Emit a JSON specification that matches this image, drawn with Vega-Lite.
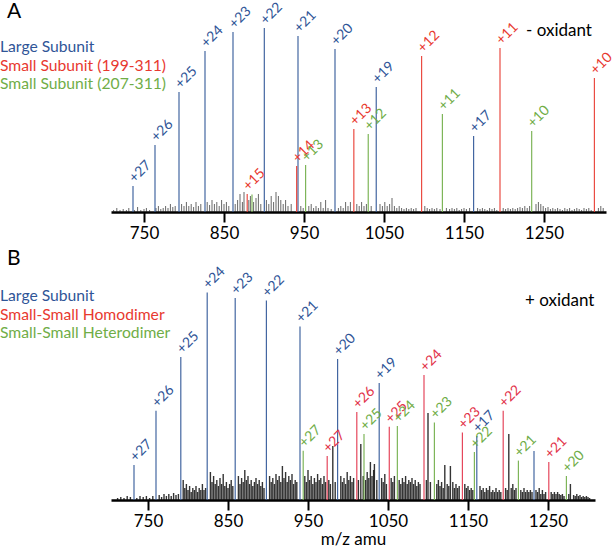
{
  "$schema": "https://vega.github.io/schema/vega-lite/v6.json",
  "padding": 0,
  "spacing": 68,
  "bounds": "flush",
  "config": {
    "view": {"stroke": null},
    "font": "Lato",
    "axis": {"labelFont": "Lato", "titleFont": "Lato"}
  },
  "resolve": {"scale": {"x": "independent", "y": "independent", "color": "shared"}},
  "datasets": {
    "peaksA": [
      {"mz": 736.25, "intensity": 13, "series": "large", "label": "+27"},
      {"mz": 763.75, "intensity": 33.5, "series": "large", "label": "+26"},
      {"mz": 793.75, "intensity": 60, "series": "large", "label": "+25"},
      {"mz": 826.25, "intensity": 80.5, "series": "large", "label": "+24"},
      {"mz": 861.25, "intensity": 90, "series": "large", "label": "+23"},
      {"mz": 900.4, "intensity": 92, "series": "large", "label": "+22"},
      {"mz": 942.5, "intensity": 88, "series": "large", "label": "+21"},
      {"mz": 988.75, "intensity": 81.5, "series": "large", "label": "+20"},
      {"mz": 1040.3, "intensity": 62.5, "series": "large", "label": "+19"},
      {"mz": 1162, "intensity": 38, "series": "large", "label": "+17"},
      {"mz": 879, "intensity": 9, "series": "small199", "label": "+15"},
      {"mz": 940.8, "intensity": 23, "series": "small199", "label": "+14"},
      {"mz": 1012.3, "intensity": 41.5, "series": "small199", "label": "+13"},
      {"mz": 1097, "intensity": 78, "series": "small199", "label": "+12"},
      {"mz": 1195, "intensity": 82, "series": "small199", "label": "+11"},
      {"mz": 1313, "intensity": 67, "series": "small199", "label": "+10"},
      {"mz": 885, "intensity": 8.7, "series": "small207", "label": null},
      {"mz": 952, "intensity": 23.5, "series": "small207", "label": "+13"},
      {"mz": 1030.3, "intensity": 39, "series": "small207", "label": "+12"},
      {"mz": 1123, "intensity": 49, "series": "small207", "label": "+11"},
      {"mz": 1234.6, "intensity": 40.5, "series": "small207", "label": "+10"}
    ],
    "noiseA": [
      {"mz": 712, "intensity": 1}, {"mz": 716, "intensity": 2}, {"mz": 720, "intensity": 1}, {"mz": 724, "intensity": 1.5},
      {"mz": 728, "intensity": 1}, {"mz": 731, "intensity": 2}, {"mz": 738, "intensity": 1}, {"mz": 742, "intensity": 2.5},
      {"mz": 746, "intensity": 1}, {"mz": 750, "intensity": 1.5}, {"mz": 753, "intensity": 2}, {"mz": 757, "intensity": 1},
      {"mz": 765, "intensity": 2}, {"mz": 768, "intensity": 3}, {"mz": 771, "intensity": 1.5}, {"mz": 774, "intensity": 2},
      {"mz": 777, "intensity": 3}, {"mz": 780, "intensity": 2}, {"mz": 783, "intensity": 4}, {"mz": 786, "intensity": 2.5},
      {"mz": 789, "intensity": 3}, {"mz": 797, "intensity": 4}, {"mz": 800, "intensity": 3}, {"mz": 803, "intensity": 5},
      {"mz": 806, "intensity": 3}, {"mz": 809, "intensity": 4}, {"mz": 812, "intensity": 2.5}, {"mz": 815, "intensity": 5},
      {"mz": 818, "intensity": 3}, {"mz": 821, "intensity": 4}, {"mz": 829, "intensity": 5}, {"mz": 832, "intensity": 3.5},
      {"mz": 835, "intensity": 6}, {"mz": 838, "intensity": 4}, {"mz": 841, "intensity": 5}, {"mz": 844, "intensity": 3},
      {"mz": 847, "intensity": 6}, {"mz": 850, "intensity": 4}, {"mz": 853, "intensity": 5}, {"mz": 856, "intensity": 3},
      {"mz": 864, "intensity": 4}, {"mz": 867, "intensity": 6}, {"mz": 870, "intensity": 9}, {"mz": 873, "intensity": 5},
      {"mz": 875, "intensity": 10}, {"mz": 881, "intensity": 6}, {"mz": 883, "intensity": 8}, {"mz": 887, "intensity": 5},
      {"mz": 890, "intensity": 7}, {"mz": 893, "intensity": 9}, {"mz": 896, "intensity": 4}, {"mz": 903, "intensity": 6},
      {"mz": 906, "intensity": 4}, {"mz": 909, "intensity": 8}, {"mz": 912, "intensity": 5}, {"mz": 915, "intensity": 10},
      {"mz": 918, "intensity": 8}, {"mz": 921, "intensity": 6}, {"mz": 924, "intensity": 4}, {"mz": 927, "intensity": 6},
      {"mz": 930, "intensity": 3}, {"mz": 934, "intensity": 4}, {"mz": 946, "intensity": 3}, {"mz": 949, "intensity": 2},
      {"mz": 956, "intensity": 3}, {"mz": 959, "intensity": 4}, {"mz": 962, "intensity": 2}, {"mz": 965, "intensity": 3},
      {"mz": 968, "intensity": 2}, {"mz": 971, "intensity": 5}, {"mz": 974, "intensity": 2}, {"mz": 977, "intensity": 6},
      {"mz": 980, "intensity": 2}, {"mz": 984, "intensity": 1.5}, {"mz": 993, "intensity": 2}, {"mz": 996, "intensity": 3},
      {"mz": 999, "intensity": 2}, {"mz": 1002, "intensity": 5}, {"mz": 1005, "intensity": 3}, {"mz": 1008, "intensity": 5},
      {"mz": 1016, "intensity": 4}, {"mz": 1019, "intensity": 3}, {"mz": 1022, "intensity": 5}, {"mz": 1025, "intensity": 3},
      {"mz": 1028, "intensity": 4}, {"mz": 1034, "intensity": 3}, {"mz": 1045, "intensity": 4}, {"mz": 1048, "intensity": 3},
      {"mz": 1051, "intensity": 5}, {"mz": 1054, "intensity": 3}, {"mz": 1057, "intensity": 4}, {"mz": 1060, "intensity": 7},
      {"mz": 1063, "intensity": 3}, {"mz": 1066, "intensity": 2}, {"mz": 1069, "intensity": 3}, {"mz": 1072, "intensity": 2},
      {"mz": 1075, "intensity": 1.5}, {"mz": 1078, "intensity": 2}, {"mz": 1081, "intensity": 1.5}, {"mz": 1084, "intensity": 2},
      {"mz": 1087, "intensity": 1.5}, {"mz": 1090, "intensity": 2}, {"mz": 1101, "intensity": 3}, {"mz": 1104, "intensity": 2},
      {"mz": 1107, "intensity": 1.5}, {"mz": 1110, "intensity": 2}, {"mz": 1113, "intensity": 1.5}, {"mz": 1116, "intensity": 2},
      {"mz": 1120, "intensity": 1.5}, {"mz": 1128, "intensity": 2}, {"mz": 1132, "intensity": 1.5}, {"mz": 1135, "intensity": 2},
      {"mz": 1138, "intensity": 1.5}, {"mz": 1141, "intensity": 2}, {"mz": 1144, "intensity": 1}, {"mz": 1147, "intensity": 1.5},
      {"mz": 1150, "intensity": 2}, {"mz": 1153, "intensity": 1.5}, {"mz": 1157, "intensity": 2}, {"mz": 1167, "intensity": 2},
      {"mz": 1170, "intensity": 1.5}, {"mz": 1173, "intensity": 2}, {"mz": 1176, "intensity": 1.5}, {"mz": 1179, "intensity": 1},
      {"mz": 1182, "intensity": 2}, {"mz": 1185, "intensity": 1.5}, {"mz": 1188, "intensity": 2}, {"mz": 1191, "intensity": 1},
      {"mz": 1199, "intensity": 2}, {"mz": 1202, "intensity": 1.5}, {"mz": 1205, "intensity": 2}, {"mz": 1208, "intensity": 1.5},
      {"mz": 1211, "intensity": 2}, {"mz": 1214, "intensity": 1.5}, {"mz": 1217, "intensity": 2}, {"mz": 1220, "intensity": 2.5},
      {"mz": 1223, "intensity": 2}, {"mz": 1226, "intensity": 3}, {"mz": 1229, "intensity": 2}, {"mz": 1232, "intensity": 3},
      {"mz": 1240, "intensity": 4}, {"mz": 1243, "intensity": 5}, {"mz": 1246, "intensity": 4}, {"mz": 1249, "intensity": 3},
      {"mz": 1252, "intensity": 2}, {"mz": 1255, "intensity": 2.5}, {"mz": 1258, "intensity": 1.5}, {"mz": 1261, "intensity": 2},
      {"mz": 1264, "intensity": 1.5}, {"mz": 1267, "intensity": 2}, {"mz": 1270, "intensity": 1.5}, {"mz": 1273, "intensity": 1},
      {"mz": 1276, "intensity": 2}, {"mz": 1279, "intensity": 1.5}, {"mz": 1282, "intensity": 2}, {"mz": 1285, "intensity": 1},
      {"mz": 1288, "intensity": 1.5}, {"mz": 1291, "intensity": 2}, {"mz": 1294, "intensity": 1.5}, {"mz": 1297, "intensity": 1},
      {"mz": 1300, "intensity": 2}, {"mz": 1303, "intensity": 1.5}, {"mz": 1306, "intensity": 2}, {"mz": 1309, "intensity": 1},
      {"mz": 1318, "intensity": 2}, {"mz": 1321, "intensity": 3}, {"mz": 1324, "intensity": 2}
    ],
    "peaksB": [
      {"mz": 732.5, "intensity": 17.5, "series": "large", "label": "+27"},
      {"mz": 760, "intensity": 44.6, "series": "large", "label": "+26"},
      {"mz": 791, "intensity": 71.5, "series": "large", "label": "+25"},
      {"mz": 824, "intensity": 103.8, "series": "large", "label": "+24"},
      {"mz": 859, "intensity": 101, "series": "large", "label": "+23"},
      {"mz": 898, "intensity": 99.7, "series": "large", "label": "+22"},
      {"mz": 940, "intensity": 86.8, "series": "large", "label": "+21"},
      {"mz": 987, "intensity": 70.5, "series": "large", "label": "+20"},
      {"mz": 1039, "intensity": 58.5, "series": "large", "label": "+19"},
      {"mz": 1161, "intensity": 32, "series": "large", "label": "+17"},
      {"mz": 1232.5, "intensity": 24.5, "series": "large", "label": null},
      {"mz": 974, "intensity": 22, "series": "homodimer", "label": "+27"},
      {"mz": 1011, "intensity": 44, "series": "homodimer", "label": "+26"},
      {"mz": 1051.6, "intensity": 36.6, "series": "homodimer", "label": "+25"},
      {"mz": 1095, "intensity": 62.5, "series": "homodimer", "label": "+24"},
      {"mz": 1143, "intensity": 33.7, "series": "homodimer", "label": "+23"},
      {"mz": 1194, "intensity": 44.6, "series": "homodimer", "label": "+22"},
      {"mz": 1251, "intensity": 19, "series": "homodimer", "label": "+21"},
      {"mz": 944, "intensity": 24.6, "series": "heterodimer", "label": "+27"},
      {"mz": 1020, "intensity": 33, "series": "heterodimer", "label": "+25"},
      {"mz": 1061.7, "intensity": 37, "series": "heterodimer", "label": "+24"},
      {"mz": 1108, "intensity": 38.8, "series": "heterodimer", "label": "+23"},
      {"mz": 1158, "intensity": 24, "series": "heterodimer", "label": "+22"},
      {"mz": 1213, "intensity": 19.7, "series": "heterodimer", "label": "+21"},
      {"mz": 1273, "intensity": 12, "series": "heterodimer", "label": "+20"}
    ],
    "noiseB": [
      {"mz": 981, "intensity": 27}, {"mz": 1016, "intensity": 28}, {"mz": 1100, "intensity": 43.5}, {"mz": 1201, "intensity": 33},
      {"mz": 1121, "intensity": 17.5}, {"mz": 1128, "intensity": 17}, {"mz": 1278, "intensity": 8}, {"mz": 1033, "intensity": 18},
      {"mz": 712, "intensity": 1}, {"mz": 716, "intensity": 1.5}, {"mz": 720, "intensity": 1}, {"mz": 724, "intensity": 2},
      {"mz": 728, "intensity": 1.5}, {"mz": 736, "intensity": 1}, {"mz": 740, "intensity": 2}, {"mz": 744, "intensity": 1.5},
      {"mz": 748, "intensity": 2}, {"mz": 752, "intensity": 1}, {"mz": 756, "intensity": 2}, {"mz": 764, "intensity": 2.5},
      {"mz": 767, "intensity": 1.5}, {"mz": 770, "intensity": 3}, {"mz": 773, "intensity": 2}, {"mz": 776, "intensity": 3},
      {"mz": 779, "intensity": 2}, {"mz": 782, "intensity": 3.5}, {"mz": 785, "intensity": 2.5}, {"mz": 788, "intensity": 3},
      {"mz": 794, "intensity": 10}, {"mz": 796, "intensity": 6}, {"mz": 798, "intensity": 8}, {"mz": 800, "intensity": 5},
      {"mz": 802, "intensity": 7}, {"mz": 804, "intensity": 4}, {"mz": 806, "intensity": 6}, {"mz": 808, "intensity": 5},
      {"mz": 810, "intensity": 7}, {"mz": 812, "intensity": 4}, {"mz": 814, "intensity": 6}, {"mz": 816, "intensity": 5},
      {"mz": 818, "intensity": 8}, {"mz": 820, "intensity": 5}, {"mz": 822, "intensity": 6},
      {"mz": 828, "intensity": 14}, {"mz": 830, "intensity": 9}, {"mz": 832, "intensity": 12}, {"mz": 834, "intensity": 8},
      {"mz": 836, "intensity": 10}, {"mz": 838, "intensity": 7}, {"mz": 840, "intensity": 11}, {"mz": 842, "intensity": 8},
      {"mz": 844, "intensity": 13}, {"mz": 846, "intensity": 7}, {"mz": 848, "intensity": 9}, {"mz": 850, "intensity": 6},
      {"mz": 852, "intensity": 8}, {"mz": 854, "intensity": 10}, {"mz": 856, "intensity": 7},
      {"mz": 863, "intensity": 12}, {"mz": 865, "intensity": 8}, {"mz": 867, "intensity": 11}, {"mz": 869, "intensity": 9},
      {"mz": 871, "intensity": 15}, {"mz": 873, "intensity": 10}, {"mz": 875, "intensity": 12}, {"mz": 877, "intensity": 8},
      {"mz": 879, "intensity": 10}, {"mz": 881, "intensity": 7}, {"mz": 883, "intensity": 9}, {"mz": 885, "intensity": 11},
      {"mz": 887, "intensity": 8}, {"mz": 889, "intensity": 10}, {"mz": 891, "intensity": 7}, {"mz": 893, "intensity": 9},
      {"mz": 895, "intensity": 6},
      {"mz": 902, "intensity": 12}, {"mz": 904, "intensity": 9}, {"mz": 906, "intensity": 11}, {"mz": 908, "intensity": 8},
      {"mz": 910, "intensity": 13}, {"mz": 912, "intensity": 10}, {"mz": 914, "intensity": 12}, {"mz": 916, "intensity": 9},
      {"mz": 918, "intensity": 17}, {"mz": 920, "intensity": 11}, {"mz": 922, "intensity": 14}, {"mz": 924, "intensity": 9},
      {"mz": 926, "intensity": 12}, {"mz": 928, "intensity": 10}, {"mz": 930, "intensity": 13}, {"mz": 932, "intensity": 8},
      {"mz": 934, "intensity": 10}, {"mz": 936, "intensity": 9},
      {"mz": 946, "intensity": 12}, {"mz": 948, "intensity": 9}, {"mz": 950, "intensity": 15}, {"mz": 952, "intensity": 10},
      {"mz": 954, "intensity": 12}, {"mz": 956, "intensity": 8}, {"mz": 958, "intensity": 11}, {"mz": 960, "intensity": 9},
      {"mz": 962, "intensity": 13}, {"mz": 964, "intensity": 10}, {"mz": 966, "intensity": 11}, {"mz": 968, "intensity": 8},
      {"mz": 970, "intensity": 12}, {"mz": 972, "intensity": 9}, {"mz": 976, "intensity": 10}, {"mz": 978, "intensity": 8},
      {"mz": 984, "intensity": 9},
      {"mz": 991, "intensity": 12}, {"mz": 993, "intensity": 9}, {"mz": 995, "intensity": 11}, {"mz": 997, "intensity": 8},
      {"mz": 999, "intensity": 14}, {"mz": 1001, "intensity": 10}, {"mz": 1003, "intensity": 12}, {"mz": 1005, "intensity": 9},
      {"mz": 1007, "intensity": 11}, {"mz": 1013, "intensity": 10}, {"mz": 1019, "intensity": 12}, {"mz": 1022, "intensity": 10},
      {"mz": 1024, "intensity": 14}, {"mz": 1026, "intensity": 11}, {"mz": 1028, "intensity": 19}, {"mz": 1030, "intensity": 12},
      {"mz": 1032, "intensity": 15}, {"mz": 1036, "intensity": 10},
      {"mz": 1042, "intensity": 11}, {"mz": 1044, "intensity": 9}, {"mz": 1046, "intensity": 13}, {"mz": 1048, "intensity": 8},
      {"mz": 1054, "intensity": 11}, {"mz": 1056, "intensity": 9}, {"mz": 1058, "intensity": 12}, {"mz": 1064, "intensity": 10},
      {"mz": 1066, "intensity": 8}, {"mz": 1068, "intensity": 11}, {"mz": 1070, "intensity": 9}, {"mz": 1072, "intensity": 12},
      {"mz": 1074, "intensity": 8}, {"mz": 1076, "intensity": 10}, {"mz": 1078, "intensity": 9}, {"mz": 1080, "intensity": 11},
      {"mz": 1082, "intensity": 8}, {"mz": 1084, "intensity": 10}, {"mz": 1086, "intensity": 7}, {"mz": 1088, "intensity": 9},
      {"mz": 1090, "intensity": 8},
      {"mz": 1098, "intensity": 10}, {"mz": 1103, "intensity": 9}, {"mz": 1111, "intensity": 8}, {"mz": 1113, "intensity": 10},
      {"mz": 1115, "intensity": 7}, {"mz": 1117, "intensity": 9}, {"mz": 1119, "intensity": 6}, {"mz": 1124, "intensity": 8},
      {"mz": 1126, "intensity": 7}, {"mz": 1131, "intensity": 9}, {"mz": 1133, "intensity": 6}, {"mz": 1135, "intensity": 8},
      {"mz": 1137, "intensity": 6}, {"mz": 1139, "intensity": 7}, {"mz": 1146, "intensity": 8}, {"mz": 1148, "intensity": 6},
      {"mz": 1150, "intensity": 7}, {"mz": 1152, "intensity": 5}, {"mz": 1154, "intensity": 6}, {"mz": 1156, "intensity": 5},
      {"mz": 1165, "intensity": 7}, {"mz": 1167, "intensity": 5}, {"mz": 1169, "intensity": 6}, {"mz": 1171, "intensity": 4},
      {"mz": 1173, "intensity": 6}, {"mz": 1175, "intensity": 5}, {"mz": 1177, "intensity": 7}, {"mz": 1179, "intensity": 4},
      {"mz": 1181, "intensity": 5}, {"mz": 1183, "intensity": 4}, {"mz": 1185, "intensity": 6}, {"mz": 1187, "intensity": 4},
      {"mz": 1189, "intensity": 5}, {"mz": 1191, "intensity": 4},
      {"mz": 1197, "intensity": 6}, {"mz": 1199, "intensity": 5}, {"mz": 1204, "intensity": 6}, {"mz": 1206, "intensity": 8},
      {"mz": 1208, "intensity": 5}, {"mz": 1210, "intensity": 6}, {"mz": 1216, "intensity": 5}, {"mz": 1218, "intensity": 4},
      {"mz": 1220, "intensity": 6}, {"mz": 1222, "intensity": 4}, {"mz": 1224, "intensity": 5}, {"mz": 1226, "intensity": 4},
      {"mz": 1228, "intensity": 5}, {"mz": 1230, "intensity": 4}, {"mz": 1235, "intensity": 5}, {"mz": 1237, "intensity": 4},
      {"mz": 1239, "intensity": 6}, {"mz": 1241, "intensity": 3}, {"mz": 1243, "intensity": 5}, {"mz": 1245, "intensity": 3},
      {"mz": 1247, "intensity": 4}, {"mz": 1254, "intensity": 4}, {"mz": 1256, "intensity": 3}, {"mz": 1258, "intensity": 4},
      {"mz": 1260, "intensity": 3}, {"mz": 1262, "intensity": 4}, {"mz": 1264, "intensity": 3}, {"mz": 1266, "intensity": 2.5},
      {"mz": 1268, "intensity": 3}, {"mz": 1270, "intensity": 2}, {"mz": 1276, "intensity": 3}, {"mz": 1282, "intensity": 2.5},
      {"mz": 1284, "intensity": 2}, {"mz": 1286, "intensity": 3}, {"mz": 1288, "intensity": 2}, {"mz": 1290, "intensity": 2.5},
      {"mz": 1292, "intensity": 1.5}, {"mz": 1294, "intensity": 2}, {"mz": 1296, "intensity": 1.5}, {"mz": 1298, "intensity": 2},
      {"mz": 1300, "intensity": 1.5}, {"mz": 1302, "intensity": 1}
    ]
  },
  "vconcat": [
    {
      "width": 495,
      "height": 200,
      "layer": [
        {
          "data": {"name": "noiseA"},
          "mark": {"type": "rule", "color": "#1e1e1e", "strokeWidth": 0.8, "opacity": 0.85},
          "encoding": {
            "x": {"field": "mz", "type": "quantitative",
              "scale": {"domain": [708.75, 1327.5], "nice": false, "zero": false},
              "axis": {"values": [750, 850, 950, 1050, 1150, 1250], "format": "d", "title": null, "grid": false,
                "domainColor": "black", "domainWidth": 2.5, "tickColor": "black", "tickWidth": 2, "tickSize": 10,
                "labelFontSize": 17, "labelColor": "black", "labelPadding": 3, "labelFlush": false}},
            "y": {"field": "intensity", "type": "quantitative", "scale": {"domain": [0, 100], "nice": false}, "axis": null},
            "y2": {"datum": 0}
          }
        },
        {
          "data": {"name": "peaksA"},
          "mark": {"type": "rule", "strokeWidth": 1.2, "opacity": 0.9},
          "encoding": {
            "x": {"field": "mz", "type": "quantitative"},
            "y": {"field": "intensity", "type": "quantitative"},
            "y2": {"datum": 0},
            "color": {"field": "series", "type": "nominal",
              "scale": {"domain": ["large", "small199", "small207", "homodimer", "heterodimer"],
                "range": ["#2F5597", "#E8392F", "#70AD47", "#E2334A", "#70AD47"]}, "legend": null}
          }
        },
        {
          "data": {"name": "peaksA"},
          "transform": [{"filter": "datum.label != null"}],
          "mark": {"type": "text", "angle": -45, "align": "left", "baseline": "middle", "dx": 3, "dy": -5, "fontSize": 14},
          "encoding": {
            "x": {"field": "mz", "type": "quantitative"},
            "y": {"field": "intensity", "type": "quantitative"},
            "text": {"field": "label"},
            "color": {"field": "series", "type": "nominal", "legend": null}
          }
        },
        {
          "data": {"values": [
            {"mz": 570, "intensity": 82.5, "text": "Large Subunit", "series": "large"},
            {"mz": 570, "intensity": 73, "text": "Small Subunit (199-311)", "series": "small199"},
            {"mz": 570, "intensity": 64, "text": "Small Subunit (207-311)", "series": "small207"}
          ]},
          "mark": {"type": "text", "align": "left", "baseline": "middle", "fontSize": 15.7},
          "encoding": {
            "x": {"field": "mz", "type": "quantitative"},
            "y": {"field": "intensity", "type": "quantitative"},
            "text": {"field": "text"},
            "color": {"field": "series", "type": "nominal", "legend": null}
          }
        },
        {
          "data": {"values": [{"mz": 578.75, "intensity": 100, "text": "A"}]},
          "mark": {"type": "text", "align": "left", "baseline": "middle", "fontSize": 21, "color": "black"},
          "encoding": {
            "x": {"field": "mz", "type": "quantitative"},
            "y": {"field": "intensity", "type": "quantitative"},
            "text": {"field": "text"}
          }
        },
        {
          "data": {"values": [{"mz": 1227.5, "intensity": 90.5, "text": "- oxidant"}]},
          "mark": {"type": "text", "align": "left", "baseline": "middle", "fontSize": 17, "color": "black"},
          "encoding": {
            "x": {"field": "mz", "type": "quantitative"},
            "y": {"field": "intensity", "type": "quantitative"},
            "text": {"field": "text"}
          }
        }
      ]
    },
    {
      "width": 484,
      "height": 220,
      "layer": [
        {
          "data": {"name": "noiseB"},
          "mark": {"type": "rule", "color": "#111111", "strokeWidth": 1.4, "opacity": 0.85},
          "encoding": {
            "x": {"field": "mz", "type": "quantitative",
              "scale": {"domain": [703.75, 1308.75], "nice": false, "zero": false},
              "axis": {"values": [750, 850, 950, 1050, 1150, 1250], "format": "d", "title": "m/z amu", "grid": false,
                "domainColor": "black", "domainWidth": 2.5, "tickColor": "black", "tickWidth": 2, "tickSize": 10,
                "labelFontSize": 17, "labelColor": "black", "labelPadding": 3, "labelFlush": false,
                "titleFontSize": 17, "titleFontWeight": "normal", "titleColor": "black", "titlePadding": 2}},
            "y": {"field": "intensity", "type": "quantitative", "scale": {"domain": [0, 110], "nice": false}, "axis": null},
            "y2": {"datum": 0}
          }
        },
        {
          "data": {"name": "peaksB"},
          "mark": {"type": "rule", "strokeWidth": 1.2, "opacity": 0.9},
          "encoding": {
            "x": {"field": "mz", "type": "quantitative"},
            "y": {"field": "intensity", "type": "quantitative"},
            "y2": {"datum": 0},
            "color": {"field": "series", "type": "nominal", "legend": null}
          }
        },
        {
          "data": {"name": "peaksB"},
          "transform": [{"filter": "datum.label != null"}],
          "mark": {"type": "text", "angle": -45, "align": "left", "baseline": "middle", "dx": 3, "dy": -5, "fontSize": 14},
          "encoding": {
            "x": {"field": "mz", "type": "quantitative"},
            "y": {"field": "intensity", "type": "quantitative"},
            "text": {"field": "label"},
            "color": {"field": "series", "type": "nominal", "legend": null}
          }
        },
        {
          "data": {"values": [
            {"mz": 565, "intensity": 102, "text": "Large Subunit", "series": "large"},
            {"mz": 565, "intensity": 92.5, "text": "Small-Small Homodimer", "series": "small199"},
            {"mz": 565, "intensity": 83.5, "text": "Small-Small Heterodimer", "series": "small207"}
          ]},
          "mark": {"type": "text", "align": "left", "baseline": "middle", "fontSize": 15.7},
          "encoding": {
            "x": {"field": "mz", "type": "quantitative"},
            "y": {"field": "intensity", "type": "quantitative"},
            "text": {"field": "text"},
            "color": {"field": "series", "type": "nominal", "legend": null}
          }
        },
        {
          "data": {"values": [{"mz": 573.75, "intensity": 120.5, "text": "B"}]},
          "mark": {"type": "text", "align": "left", "baseline": "middle", "fontSize": 21, "color": "black"},
          "encoding": {
            "x": {"field": "mz", "type": "quantitative"},
            "y": {"field": "intensity", "type": "quantitative"},
            "text": {"field": "text"}
          }
        },
        {
          "data": {"values": [{"mz": 1221.25, "intensity": 99.5, "text": "+ oxidant"}]},
          "mark": {"type": "text", "align": "left", "baseline": "middle", "fontSize": 17, "color": "black"},
          "encoding": {
            "x": {"field": "mz", "type": "quantitative"},
            "y": {"field": "intensity", "type": "quantitative"},
            "text": {"field": "text"}
          }
        }
      ]
    }
  ]
}
